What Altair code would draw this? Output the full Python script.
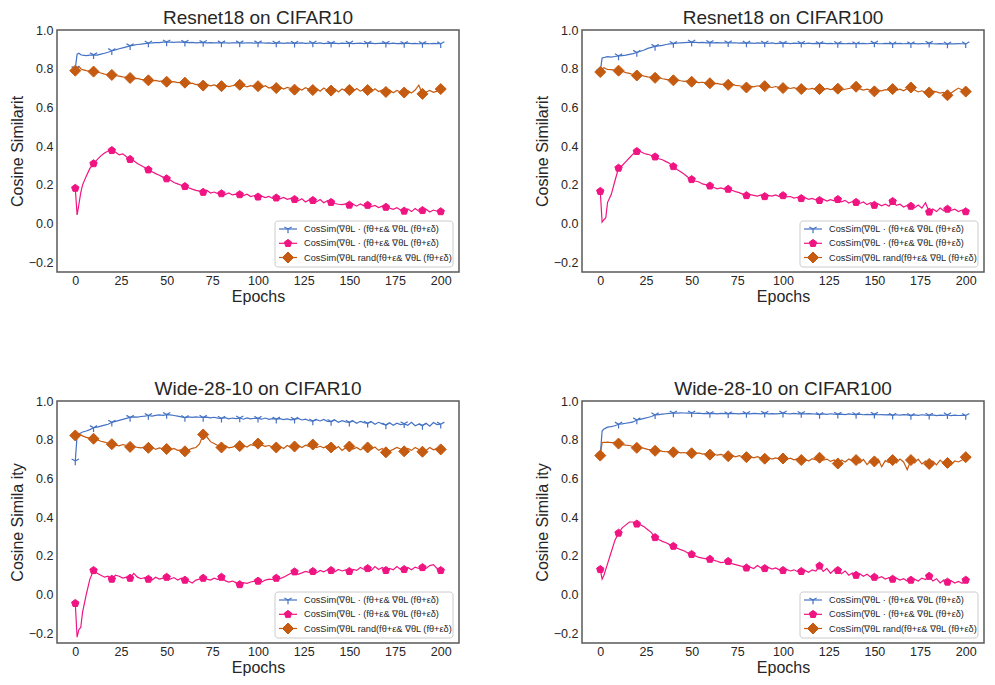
import altair as alt
import pandas as pd

# ---------------- data ----------------
EPOCHS = [0, 1, 2, 3, 4] + list(range(6, 201, 2))
X_TICKS = [0, 25, 50, 75, 100, 125, 150, 175, 200]
Y_TICKS = [-0.2, 0.0, 0.2, 0.4, 0.6, 0.8, 1.0]

SERIES_KEYS = ["adv", "adv2", "rand"]
SERIES_COLORS = ["#4472c4", "#f01482", "#c55a11"]
LEGEND_LABELS = [
    "CosSim(∇θL · (fθ+ε& ∇θL (fθ+εδ)",
    "CosSim(∇θL · (fθ+ε& ∇θL (fθ+εδ)",
    "CosSim(∇θL rand(fθ+ε& ∇θL (fθ+εδ)",
]

TITLES = ["Resnet18 on CIFAR10", "Resnet18 on CIFAR100",
          "Wide-28-10 on CIFAR10", "Wide-28-10 on CIFAR100"]
Y_TITLES = ["Cosine Similarit", "Cosine Similarit",
            "Cosine Simila ity", "Cosine Simila ity"]

# Resnet18 on CIFAR10
r18_c10_blue = [0.80, 0.875, 0.88, 0.872, 0.87, 0.868, 0.87,
    0.872, 0.870, 0.875, 0.880, 0.885, 0.893, 0.897, 0.903, 0.908, 0.913,
    0.918, 0.922, 0.925, 0.927, 0.930, 0.932, 0.933, 0.935, 0.935, 0.937,
    0.938, 0.937, 0.936, 0.938, 0.937, 0.936, 0.935, 0.936, 0.934, 0.935,
    0.935, 0.934, 0.935, 0.933, 0.934, 0.933, 0.934, 0.932, 0.934, 0.933,
    0.933, 0.932, 0.934, 0.933, 0.932, 0.933, 0.934, 0.932, 0.933, 0.931,
    0.932, 0.933, 0.931, 0.933, 0.932, 0.931, 0.932, 0.933, 0.931, 0.932,
    0.932, 0.931, 0.933, 0.930, 0.932, 0.931, 0.932, 0.930, 0.932, 0.931,
    0.932, 0.930, 0.931, 0.932, 0.930, 0.931, 0.932, 0.930, 0.931, 0.932,
    0.931, 0.930, 0.932, 0.930, 0.931, 0.930, 0.932, 0.930, 0.931, 0.929,
    0.930, 0.931, 0.929, 0.931, 0.930, 0.929]
r18_c10_pink = [0.183, 0.045, 0.10, 0.16, 0.20, 0.245, 0.285,
    0.310, 0.330, 0.350, 0.365, 0.375, 0.378, 0.370, 0.355, 0.360, 0.345,
    0.332, 0.325, 0.310, 0.300, 0.290, 0.278, 0.268, 0.258, 0.250, 0.240,
    0.232, 0.225, 0.212, 0.205, 0.198, 0.192, 0.185, 0.178, 0.172, 0.168,
    0.162, 0.172, 0.158, 0.163, 0.155, 0.155, 0.150, 0.158, 0.148, 0.152,
    0.150, 0.145, 0.152, 0.140, 0.145, 0.138, 0.142, 0.134, 0.140, 0.130,
    0.133, 0.128, 0.135, 0.125, 0.130, 0.125, 0.118, 0.128, 0.112, 0.122,
    0.120, 0.112, 0.124, 0.108, 0.118, 0.110, 0.104, 0.100, 0.098, 0.102,
    0.096, 0.100, 0.090, 0.102, 0.092, 0.095, 0.088, 0.094, 0.083, 0.090,
    0.085, 0.080, 0.074, 0.082, 0.070, 0.065, 0.076, 0.062, 0.078, 0.064,
    0.068, 0.074, 0.060, 0.070, 0.064, 0.062]
r18_c10_orange = [0.790, 0.805, 0.812, 0.800, 0.795, 0.790, 0.788,
    0.785, 0.782, 0.778, 0.772, 0.770, 0.768, 0.765, 0.762, 0.758, 0.755,
    0.752, 0.748, 0.750, 0.745, 0.742, 0.740, 0.738, 0.740, 0.735, 0.737,
    0.733, 0.730, 0.733, 0.728, 0.730, 0.728, 0.722, 0.725, 0.718, 0.720,
    0.713, 0.718, 0.712, 0.716, 0.710, 0.710, 0.714, 0.708, 0.712, 0.715,
    0.717, 0.712, 0.706, 0.713, 0.709, 0.710, 0.703, 0.712, 0.700, 0.708,
    0.700, 0.706, 0.695, 0.703, 0.698, 0.692, 0.700, 0.690, 0.702, 0.694,
    0.690, 0.698, 0.684, 0.700, 0.688, 0.687, 0.697, 0.680, 0.695, 0.686,
    0.690, 0.682, 0.698, 0.684, 0.693, 0.690, 0.680, 0.696, 0.682, 0.690,
    0.680, 0.690, 0.676, 0.688, 0.680, 0.677, 0.686, 0.674, 0.690, 0.715,
    0.670, 0.680, 0.688, 0.678, 0.684, 0.695]

# Resnet18 on CIFAR100
r18_c100_blue = [0.785, 0.855, 0.858, 0.860, 0.862, 0.860, 0.863,
    0.866, 0.868, 0.870, 0.874, 0.878, 0.884, 0.890, 0.897, 0.905, 0.910,
    0.915, 0.918, 0.921, 0.925, 0.928, 0.930, 0.932, 0.934, 0.935, 0.936,
    0.937, 0.936, 0.935, 0.936, 0.934, 0.935, 0.934, 0.935, 0.933, 0.934,
    0.934, 0.933, 0.934, 0.932, 0.933, 0.932, 0.933, 0.931, 0.933, 0.932,
    0.932, 0.931, 0.933, 0.930, 0.932, 0.931, 0.932, 0.930, 0.932, 0.931,
    0.931, 0.930, 0.932, 0.930, 0.931, 0.930, 0.932, 0.930, 0.931, 0.929,
    0.930, 0.931, 0.929, 0.931, 0.930, 0.929, 0.930, 0.931, 0.929, 0.931,
    0.932, 0.930, 0.929, 0.931, 0.930, 0.928, 0.930, 0.931, 0.929, 0.930,
    0.929, 0.930, 0.928, 0.930, 0.929, 0.931, 0.929, 0.928, 0.930, 0.928,
    0.927, 0.929, 0.928, 0.930, 0.929, 0.928]
r18_c100_pink = [0.167, 0.008, 0.020, 0.030, 0.110, 0.150, 0.220,
    0.287, 0.300, 0.320, 0.340, 0.360, 0.373, 0.372, 0.362, 0.358, 0.352,
    0.345, 0.335, 0.330, 0.320, 0.310, 0.295, 0.280, 0.268, 0.255, 0.240,
    0.228, 0.220, 0.215, 0.205, 0.200, 0.195, 0.188, 0.180, 0.184, 0.178,
    0.178, 0.172, 0.165, 0.160, 0.152, 0.145, 0.150, 0.146, 0.142, 0.148,
    0.140, 0.146, 0.142, 0.148, 0.140, 0.145, 0.138, 0.140, 0.132, 0.136,
    0.130, 0.134, 0.125, 0.130, 0.122, 0.120, 0.126, 0.116, 0.124, 0.118,
    0.125, 0.112, 0.120, 0.106, 0.114, 0.110, 0.104, 0.112, 0.098, 0.108,
    0.095, 0.102, 0.092, 0.100, 0.090, 0.115, 0.094, 0.100, 0.086, 0.094,
    0.090, 0.082, 0.096, 0.080, 0.108, 0.060, 0.075, 0.062, 0.080, 0.066,
    0.075, 0.068, 0.074, 0.062, 0.070, 0.062]
r18_c100_orange = [0.783, 0.800, 0.805, 0.800, 0.797, 0.795, 0.792,
    0.790, 0.787, 0.780, 0.776, 0.770, 0.765, 0.768, 0.762, 0.758, 0.756,
    0.753, 0.755, 0.748, 0.745, 0.742, 0.740, 0.742, 0.738, 0.735, 0.737,
    0.733, 0.731, 0.728, 0.730, 0.726, 0.725, 0.722, 0.724, 0.719, 0.721,
    0.717, 0.720, 0.714, 0.712, 0.708, 0.703, 0.710, 0.706, 0.712, 0.708,
    0.710, 0.706, 0.703, 0.708, 0.702, 0.700, 0.704, 0.698, 0.702, 0.696,
    0.695, 0.700, 0.694, 0.698, 0.692, 0.695, 0.690, 0.698, 0.692, 0.696,
    0.697, 0.690, 0.694, 0.698, 0.702, 0.707, 0.696, 0.690, 0.694, 0.688,
    0.683, 0.690, 0.686, 0.692, 0.690, 0.695, 0.688, 0.694, 0.686, 0.698,
    0.703, 0.690, 0.680, 0.686, 0.678, 0.677, 0.684, 0.680, 0.674, 0.678,
    0.663, 0.675, 0.688, 0.700, 0.690, 0.682]

# Wide-28-10 on CIFAR10
w28_c10_blue = [0.690, 0.820, 0.830, 0.835, 0.840, 0.845, 0.852,
    0.862, 0.865, 0.870, 0.875, 0.880, 0.890, 0.895, 0.900, 0.905, 0.910,
    0.915, 0.918, 0.917, 0.920, 0.922, 0.925, 0.922, 0.926, 0.928, 0.926,
    0.930, 0.928, 0.925, 0.922, 0.918, 0.914, 0.918, 0.915, 0.918, 0.916,
    0.915, 0.917, 0.913, 0.916, 0.912, 0.910, 0.914, 0.908, 0.912, 0.909,
    0.912, 0.906, 0.913, 0.908, 0.911, 0.910, 0.906, 0.912, 0.905, 0.909,
    0.906, 0.909, 0.904, 0.908, 0.903, 0.905, 0.910, 0.902, 0.906, 0.898,
    0.896, 0.904, 0.897, 0.905, 0.895, 0.894, 0.902, 0.890, 0.898, 0.892,
    0.890, 0.897, 0.885, 0.895, 0.888, 0.885, 0.893, 0.880, 0.890, 0.882,
    0.876, 0.888, 0.875, 0.885, 0.878, 0.882, 0.875, 0.890, 0.872, 0.880,
    0.873, 0.885, 0.870, 0.889, 0.878, 0.880]
w28_c10_pink = [-0.045, -0.220, -0.180, -0.170, -0.090, 0.000, 0.080,
    0.125, 0.110, 0.100, 0.090, 0.095, 0.080, 0.100, 0.095, 0.085, 0.090,
    0.085, 0.110, 0.090, 0.082, 0.088, 0.080, 0.075, 0.090, 0.080, 0.085,
    0.090, 0.080, 0.088, 0.075, 0.085, 0.075, 0.070, 0.060, 0.075, 0.080,
    0.085, 0.080, 0.075, 0.085, 0.078, 0.090, 0.072, 0.065, 0.070, 0.062,
    0.052, 0.062, 0.058, 0.065, 0.070, 0.070, 0.065, 0.075, 0.080, 0.078,
    0.085, 0.082, 0.090, 0.100, 0.110, 0.118, 0.105, 0.112, 0.120, 0.115,
    0.120, 0.112, 0.125, 0.118, 0.128, 0.125, 0.118, 0.130, 0.122, 0.128,
    0.120, 0.130, 0.125, 0.140, 0.130, 0.135, 0.125, 0.145, 0.130, 0.140,
    0.125, 0.135, 0.128, 0.145, 0.130, 0.130, 0.140, 0.128, 0.142, 0.135,
    0.140, 0.135, 0.150, 0.155, 0.135, 0.125]
w28_c10_orange = [0.822, 0.828, 0.832, 0.825, 0.820, 0.812, 0.808,
    0.805, 0.800, 0.792, 0.788, 0.782, 0.777, 0.772, 0.768, 0.775, 0.770,
    0.763, 0.766, 0.760, 0.758, 0.762, 0.758, 0.762, 0.750, 0.758, 0.753,
    0.752, 0.748, 0.755, 0.745, 0.748, 0.740, 0.748, 0.755, 0.760, 0.778,
    0.827, 0.815, 0.790, 0.780, 0.770, 0.760, 0.770, 0.758, 0.762, 0.768,
    0.767, 0.770, 0.762, 0.775, 0.770, 0.780, 0.772, 0.766, 0.770, 0.762,
    0.760, 0.766, 0.755, 0.770, 0.760, 0.765, 0.770, 0.760, 0.772, 0.765,
    0.775, 0.760, 0.766, 0.758, 0.770, 0.760, 0.750, 0.765, 0.745, 0.758,
    0.765, 0.752, 0.760, 0.748, 0.758, 0.760, 0.750, 0.762, 0.745, 0.755,
    0.735, 0.742, 0.750, 0.760, 0.752, 0.740, 0.755, 0.745, 0.760, 0.750,
    0.738, 0.745, 0.760, 0.748, 0.755, 0.750]

# Wide-28-10 on CIFAR100
w28_c100_blue = [0.720, 0.845, 0.855, 0.860, 0.865, 0.868, 0.872,
    0.880, 0.882, 0.885, 0.888, 0.892, 0.902, 0.905, 0.910, 0.915, 0.920,
    0.928, 0.930, 0.932, 0.934, 0.936, 0.938, 0.937, 0.939, 0.938, 0.937,
    0.938, 0.936, 0.937, 0.935, 0.936, 0.935, 0.936, 0.934, 0.936, 0.935,
    0.934, 0.936, 0.935, 0.934, 0.936, 0.935, 0.934, 0.936, 0.935, 0.934,
    0.936, 0.934, 0.935, 0.933, 0.935, 0.937, 0.935, 0.934, 0.936, 0.934,
    0.935, 0.933, 0.935, 0.934, 0.932, 0.930, 0.933, 0.931, 0.934, 0.932,
    0.931, 0.932, 0.930, 0.933, 0.931, 0.930, 0.932, 0.929, 0.931, 0.930,
    0.931, 0.929, 0.930, 0.928, 0.930, 0.926, 0.929, 0.927, 0.930, 0.928,
    0.925, 0.928, 0.926, 0.929, 0.927, 0.926, 0.928, 0.925, 0.927, 0.926,
    0.928, 0.924, 0.927, 0.925, 0.926, 0.925]
w28_c100_pink = [0.130, 0.080, 0.100, 0.130, 0.160, 0.220, 0.280,
    0.318, 0.345, 0.360, 0.375, 0.375, 0.365, 0.360, 0.350, 0.335, 0.320,
    0.295, 0.285, 0.275, 0.268, 0.258, 0.250, 0.240, 0.232, 0.225, 0.215,
    0.208, 0.200, 0.192, 0.188, 0.185, 0.183, 0.178, 0.172, 0.165, 0.168,
    0.172, 0.160, 0.155, 0.150, 0.145, 0.138, 0.142, 0.135, 0.150, 0.138,
    0.135, 0.140, 0.132, 0.138, 0.128, 0.125, 0.130, 0.122, 0.128, 0.118,
    0.120, 0.125, 0.115, 0.128, 0.122, 0.148, 0.120, 0.135, 0.110, 0.128,
    0.125, 0.108, 0.122, 0.100, 0.112, 0.100, 0.108, 0.095, 0.105, 0.090,
    0.090, 0.085, 0.092, 0.080, 0.088, 0.080, 0.085, 0.075, 0.082, 0.070,
    0.075, 0.080, 0.070, 0.085, 0.078, 0.095, 0.070, 0.082, 0.060, 0.075,
    0.065, 0.072, 0.060, 0.068, 0.058, 0.075]
w28_c100_orange = [0.718, 0.785, 0.787, 0.786, 0.788, 0.785, 0.787,
    0.780, 0.775, 0.772, 0.770, 0.765, 0.758, 0.760, 0.755, 0.750, 0.748,
    0.743, 0.745, 0.740, 0.738, 0.740, 0.735, 0.737, 0.732, 0.734, 0.730,
    0.730, 0.728, 0.732, 0.726, 0.728, 0.723, 0.726, 0.720, 0.724, 0.718,
    0.715, 0.720, 0.712, 0.718, 0.712, 0.710, 0.714, 0.706, 0.712, 0.705,
    0.702, 0.708, 0.700, 0.706, 0.700, 0.703, 0.698, 0.705, 0.696, 0.702,
    0.695, 0.700, 0.690, 0.702, 0.696, 0.707, 0.695, 0.700, 0.688, 0.695,
    0.677, 0.695, 0.685, 0.700, 0.690, 0.695, 0.680, 0.698, 0.672, 0.690,
    0.688, 0.700, 0.660, 0.692, 0.682, 0.695, 0.680, 0.700, 0.685, 0.645,
    0.695, 0.680, 0.700, 0.675, 0.690, 0.675, 0.690, 0.670, 0.695, 0.678,
    0.680, 0.670, 0.690, 0.685, 0.695, 0.710]

PANEL_DATA = [
    (r18_c10_blue, r18_c10_pink, r18_c10_orange),
    (r18_c100_blue, r18_c100_pink, r18_c100_orange),
    (w28_c10_blue, w28_c10_pink, w28_c10_orange),
    (w28_c100_blue, w28_c100_pink, w28_c100_orange),
]

# ---------------- style ----------------
FONT = "Liberation Sans"
TEXT_COLOR = "#262626"
PLOT_W, PLOT_H = 402, 242
MARKER_PATHS = [
    "M0,0L0,1M0,0L-0.866,-0.5M0,0L0.866,-0.5",                    # tri-down
    "M0,-1L0.951,-0.309L0.588,0.809L-0.588,0.809L-0.951,-0.309Z",  # pentagon
    "M0,-1L1,0L0,1L-1,0Z",                                         # diamond
]
MARKER_SIZES = [70, 60, 121]
MARKER_FILLED = [False, True, True]
# legend geometry, in pixels inside the plot area (anchored bottom-right)
LEG_X0, LEG_X1 = PLOT_W - 184, PLOT_W - 6
LEG_Y0, LEG_Y1 = PLOT_H - 51, PLOT_H - 5
LEGEND_ROWS_Y = [PLOT_H - 43, PLOT_H - 28.7, PLOT_H - 14.5]
LEG_LINE_X0, LEG_LINE_X1 = PLOT_W - 180, PLOT_W - 162
LEG_MARK_X, LEG_TEXT_X = PLOT_W - 171, PLOT_W - 155


def make_panel(idx):
    blue, pink, orange = PANEL_DATA[idx]
    rows = []
    for key, vals in zip(SERIES_KEYS, (blue, pink, orange)):
        for e, v in zip(EPOCHS, vals):
            rows.append({"epoch": e, "value": v, "series": key})
    df = pd.DataFrame(rows)

    x = alt.X("epoch:Q",
              scale=alt.Scale(domain=[-10, 210], nice=False, zero=False),
              axis=alt.Axis(values=X_TICKS, title="Epochs", grid=False,
                            ticks=False, domain=False, labelFontSize=12.5,
                            labelPadding=2, titleFontSize=16, titlePadding=2,
                            labelColor=TEXT_COLOR, titleColor=TEXT_COLOR,
                            titleFontWeight="normal", labelFont=FONT,
                            titleFont=FONT))
    y = alt.Y("value:Q",
              scale=alt.Scale(domain=[-0.25, 1.0], nice=False, zero=False),
              axis=alt.Axis(values=Y_TICKS, format=".1f", title=Y_TITLES[idx],
                            grid=False, ticks=False, domain=False,
                            labelFontSize=12.5, labelPadding=4,
                            titleFontSize=16, titlePadding=3,
                            labelColor=TEXT_COLOR, titleColor=TEXT_COLOR,
                            titleFontWeight="normal", labelFont=FONT,
                            titleFont=FONT))
    color = alt.Color("series:N",
                      scale=alt.Scale(domain=SERIES_KEYS, range=SERIES_COLORS),
                      legend=None)

    layers = [alt.Chart(df).mark_line(strokeWidth=1.2).encode(x=x, y=y, color=color)]

    for i, key in enumerate(SERIES_KEYS):
        col = SERIES_COLORS[i]
        mk = dict(shape=MARKER_PATHS[i], size=MARKER_SIZES[i],
                  filled=MARKER_FILLED[i], stroke=col, opacity=1,
                  strokeWidth=1.2 if not MARKER_FILLED[i] else 1)
        if MARKER_FILLED[i]:
            mk["fill"] = col
        pts = (alt.Chart(df)
               .transform_filter((alt.datum.series == key) & (alt.datum.epoch % 10 == 0))
               .mark_point(**mk)
               .encode(x=x, y=y))
        layers.append(pts)

    one = pd.DataFrame({"k": [0]})
    box = alt.Chart(one).mark_rect(fill="white", stroke="#cccccc", strokeWidth=1,
                                   cornerRadius=3, fillOpacity=0.85).encode(
        x=alt.value(LEG_X0), x2=alt.value(LEG_X1),
        y=alt.value(LEG_Y0), y2=alt.value(LEG_Y1))
    layers.append(box)
    for i, key in enumerate(SERIES_KEYS):
        col = SERIES_COLORS[i]
        yy = LEGEND_ROWS_Y[i]
        layers.append(alt.Chart(one).mark_rule(color=col, strokeWidth=1.2).encode(
            x=alt.value(LEG_LINE_X0), x2=alt.value(LEG_LINE_X1), y=alt.value(yy)))
        mk = dict(shape=MARKER_PATHS[i], size=MARKER_SIZES[i],
                  filled=MARKER_FILLED[i], stroke=col, opacity=1,
                  strokeWidth=1.2 if not MARKER_FILLED[i] else 1)
        if MARKER_FILLED[i]:
            mk["fill"] = col
        layers.append(alt.Chart(one).mark_point(**mk).encode(
            x=alt.value(LEG_MARK_X), y=alt.value(yy)))
        layers.append(alt.Chart(one).mark_text(
            text=LEGEND_LABELS[i], align="left", baseline="middle",
            font=FONT, fontSize=9.2, color=TEXT_COLOR).encode(
            x=alt.value(LEG_TEXT_X), y=alt.value(yy)))

    return alt.layer(*layers).properties(
        width=PLOT_W, height=PLOT_H,
        title=alt.TitleParams(TITLES[idx], fontSize=19, font=FONT,
                              color=TEXT_COLOR, fontWeight="normal",
                              anchor="middle", offset=-4))


row1 = alt.hconcat(make_panel(0), make_panel(1), spacing=73)
row2 = alt.hconcat(make_panel(2), make_panel(3), spacing=73)
chart = (alt.vconcat(row1, row2, spacing=73)
         .properties(padding=0, background="white")
         .configure(font=FONT)
         .configure_view(stroke="#5a5a5a", strokeWidth=1.5))

chart.save("out.html", embed_options={"renderer": "svg", "actions": False})
